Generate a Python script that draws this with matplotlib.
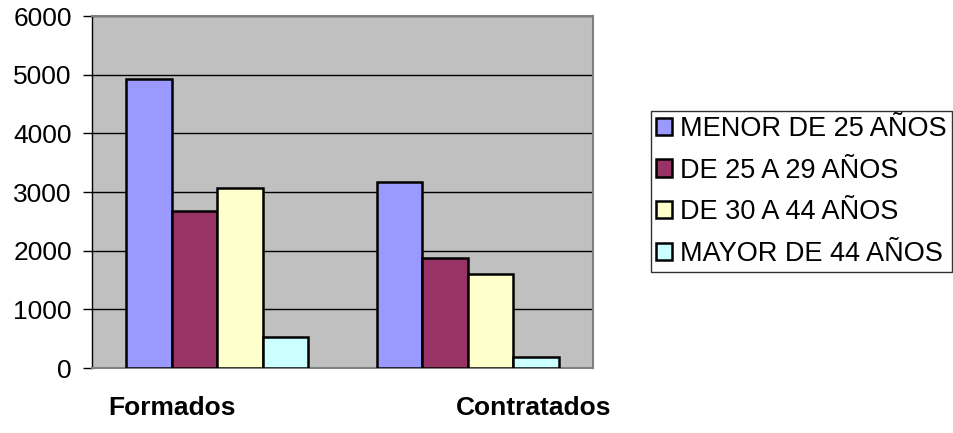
import numpy as np
import matplotlib
matplotlib.use("Agg")
import matplotlib.pyplot as plt
from matplotlib.patches import Patch

plt.rcParams['font.family'] = ['Liberation Sans', 'DejaVu Sans']

# Data
categories = ["Formados", "Contratados"]
series_names = ["MENOR DE 25 AÑOS", "DE 25 A 29 AÑOS", "DE 30 A 44 AÑOS", "MAYOR DE 44 AÑOS"]
menor_25 = [4930, 3165]
de_25_29 = [2675, 1870]
de_30_44 = [3070, 1595]
mayor_44 = [535, 195]
colors = ["#9999FF", "#993366", "#FFFFCC", "#CCFFFF"]
yticks = [0, 1000, 2000, 3000, 4000, 5000, 6000]

W, H = 954, 433
fig = plt.figure(figsize=(W / 100, H / 100), dpi=100)
ax = fig.add_axes([92 / W, (H - 368) / H, 501 / W, 352 / H])
ax.set_facecolor("#C0C0C0")

x = np.arange(len(categories))
bw = 1 / 5.5
all_series = [menor_25, de_25_29, de_30_44, mayor_44]
for i, vals in enumerate(all_series):
    ax.bar(x + (i - 1.5) * bw, vals, width=bw, color=colors[i],
           edgecolor="black", linewidth=1.8, zorder=3)

ax.set_xlim(-0.5, 1.5)
ax.set_ylim(0, 6000)
ax.set_yticks(yticks)
ax.set_yticklabels([str(t) for t in yticks], fontsize=19)
ax.set_xticks([])
ax.yaxis.grid(True, color="black", linewidth=1)
ax.set_axisbelow(True)
ax.tick_params(axis="y", direction="out", length=6.5, width=1, pad=8, colors="black")

for s in ["top", "right", "bottom"]:
    ax.spines[s].set_color("#808080")
    ax.spines[s].set_linewidth(1.5)
ax.spines["left"].set_color("black")
ax.spines["left"].set_linewidth(1)

# category labels
label_x = [172, 534]
for cx, name in zip(label_x, categories):
    fig.text(cx / W, 1 - 408 / H, name, ha="center", va="center",
             fontsize=19, fontweight="bold")

handles = [Patch(facecolor=c, edgecolor="black", linewidth=1.8) for c in colors]
leg = fig.legend(handles, series_names, loc="upper left",
                 bbox_to_anchor=(651 / W, 1 - 111 / H), fontsize=19.5,
                 frameon=True, fancybox=False, handlelength=0.6, handleheight=0.6,
                 handletextpad=0.3, labelspacing=0.58, borderpad=0.18,
                 borderaxespad=0)
leg.get_frame().set_edgecolor("black")
leg.get_frame().set_linewidth(1)

fig.savefig("out.png", dpi=100, facecolor="white")
